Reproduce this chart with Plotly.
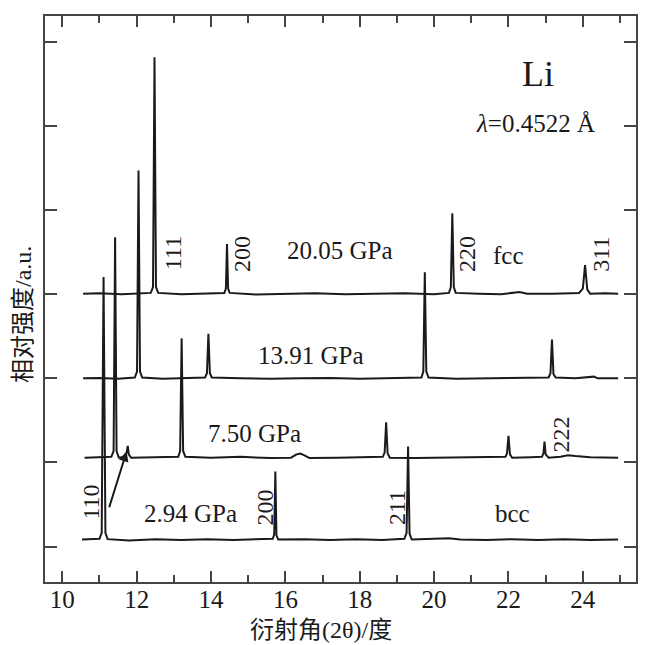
import plotly.graph_objects as go

# ---------------- data ----------------
pressures = ["20.05 GPa", "13.91 GPa", "7.50 GPa", "2.94 GPa"]
offsets = [3.005, 2.0, 1.057, 0.084]

x_2005 = [10.56, 11.0, 11.6, 12.2, 12.38, 12.44, 12.48, 12.52, 12.58, 13.2, 13.8, 14.36, 14.40, 14.43, 14.46,
          14.50, 15.2, 16.0, 16.8, 17.6, 18.4, 19.2, 20.0, 20.40, 20.45, 20.49, 20.53, 20.58, 21.2, 21.8,
          22.3, 22.5, 23.2, 23.9, 24.00, 24.06, 24.12, 24.2, 24.6, 24.95]
y_2005 = [0.0, 0.005, -0.005, 0.005, 0.01, 0.08, 2.81, 0.08, 0.01, -0.005, 0.005, 0.01, 0.06, 0.59, 0.06,
          0.01, -0.01, 0.0, 0.005, -0.005, 0.0, 0.005, -0.005, 0.01, 0.08, 0.955, 0.08, 0.01, 0.0, -0.005,
          0.02, 0.0, 0.0, 0.01, 0.06, 0.34, 0.05, 0.0, 0.005, 0.0]

x_1391 = [10.56, 11.0, 11.5, 11.95, 12.01, 12.05, 12.09, 12.15, 12.7, 13.3, 13.84, 13.89, 13.93, 13.97, 14.02,
          14.8, 15.6, 16.4, 17.2, 18.0, 18.8, 19.4, 19.66, 19.71, 19.75, 19.79, 19.85, 20.6, 21.4, 22.2,
          23.08, 23.13, 23.17, 23.21, 23.27, 23.8, 24.3, 24.4, 24.95]
y_1391 = [0.0, 0.005, -0.005, 0.01, 0.08, 2.47, 0.08, 0.01, -0.005, 0.005, 0.01, 0.06, 0.53, 0.06, 0.01,
          0.0, -0.005, 0.0, 0.005, -0.005, 0.0, 0.005, 0.01, 0.08, 1.26, 0.08, 0.01, -0.005, 0.0, 0.005,
          0.01, 0.06, 0.46, 0.05, 0.01, 0.0, 0.02, 0.0, 0.0]

x_750 = [10.6, 11.0, 11.32, 11.38, 11.42, 11.46, 11.52, 11.68, 11.73, 11.76, 11.79, 11.85, 12.5, 13.12, 13.17,
         13.21, 13.25, 13.31, 14.0, 14.8, 15.6, 16.15, 16.3, 16.4, 16.5, 16.65, 17.4, 18.2, 18.62, 18.67,
         18.71, 18.75, 18.81, 19.5, 20.3, 21.1, 21.92, 21.96, 22.0, 22.04, 22.1, 22.6, 22.9, 22.94, 22.97,
         23.0, 23.08, 23.4, 23.6, 23.8, 24.2, 24.95]
y_750 = [0.0, 0.005, 0.01, 0.08, 2.62, 0.08, 0.0, 0.01, 0.06, 0.14, 0.04, 0.0, 0.005, 0.01, 0.08,
         1.42, 0.08, 0.01, 0.0, 0.01, -0.005, 0.0, 0.04, 0.05, 0.03, -0.005, 0.0, 0.005, 0.01, 0.06,
         0.42, 0.05, 0.0, -0.005, 0.0, 0.005, 0.01, 0.05, 0.26, 0.04, 0.0, 0.005, 0.01, 0.05, 0.19,
         0.04, 0.0, 0.01, 0.03, 0.02, 0.005, 0.0]

x_294 = [10.53, 10.8, 11.0, 11.06, 11.11, 11.16, 11.22, 11.8, 12.5, 13.2, 13.9, 14.6, 15.3, 15.66, 15.70,
         15.73, 15.76, 15.81, 16.5, 17.2, 17.9, 18.6, 19.2, 19.26, 19.30, 19.34, 19.40, 20.0, 20.4, 20.7,
         21.4, 22.1, 22.8, 23.5, 24.2, 24.95]
y_294 = [0.0, 0.005, 0.01, 0.08, 3.12, 0.08, 0.005, -0.01, 0.005, -0.005, 0.005, -0.005, 0.005, 0.01, 0.06,
         0.81, 0.05, 0.0, 0.005, -0.005, 0.005, -0.005, 0.01, 0.08, 1.106, 0.07, 0.0, 0.005, 0.015, 0.0,
         -0.005, 0.005, -0.005, 0.005, -0.005, 0.0]

series_x = [x_2005, x_1391, x_750, x_294]
series_y = [y_2005, y_1391, y_750, y_294]

x_ticks = [10, 12, 14, 16, 18, 20, 22, 24]
y_ticks = [0, 1, 2, 3, 4, 5, 6]

# text labels: (text, x, y)
pressure_labels = [("20.05 GPa", 17.48, 3.52), ("13.91 GPa", 16.70, 2.27),
                   ("7.50 GPa", 15.18, 1.35), ("2.94 GPa", 13.45, 0.39)]
phase_labels = [("fcc", 22.0, 3.46), ("bcc", 22.11, 0.39)]
hkl_labels = [("111", 12.98, 3.49), ("200", 14.84, 3.48), ("220", 20.89, 3.48), ("311", 24.49, 3.47),
              ("222", 23.41, 1.33), ("110", 10.76, 0.53), ("200", 15.46, 0.47), ("211", 19.0, 0.47)]

x_title = "衍射角(2θ)/度"
y_title = "相对强度/a.u."

# ---------------- figure ----------------
SERIF = "Liberation Serif, Times New Roman, Noto Sans CJK SC, serif"
INK = "#1a1a1a"
fig = go.Figure()
for xs, ys, off, name in zip(series_x, series_y, offsets, pressures):
    fig.add_trace(go.Scatter(x=xs, y=[v + off for v in ys], mode="lines", name=name,
                             line=dict(color=INK, width=2), showlegend=False))

for t, x, y in pressure_labels + phase_labels:
    fig.add_annotation(x=x, y=y, xref="x", yref="y", text=t, showarrow=False,
                       font=dict(family=SERIF, size=25, color=INK))
for t, x, y in hkl_labels:
    fig.add_annotation(x=x, y=y, xref="x", yref="y", text=t, showarrow=False, textangle=-90,
                       font=dict(family=SERIF, size=24, color=INK))

fig.add_annotation(x=22.8, y=5.61, xref="x", yref="y", text="Li", showarrow=False,
                   font=dict(family=SERIF, size=36, color=INK))
fig.add_annotation(x=22.74, y=5.03, xref="x", yref="y", text="<i>λ</i>=0.4522 Å", showarrow=False,
                   font=dict(family=SERIF, size=25, color=INK))
# arrow from the 110 label to the small peak in the 7.50 GPa pattern
fig.add_annotation(x=11.73, y=1.13, ax=11.25, ay=0.45, xref="x", yref="y", axref="x", ayref="y",
                   text="", showarrow=True, arrowhead=2, arrowsize=1, arrowwidth=2, arrowcolor=INK)

# axis titles
fig.add_annotation(x=0.467, y=-0.0845, xref="paper", yref="paper", text=x_title, showarrow=False,
                   xanchor="center", yanchor="middle", font=dict(family=SERIF, size=24, color=INK))
fig.add_annotation(x=-0.037, y=0.472, xref="paper", yref="paper", text=y_title, showarrow=False,
                   xanchor="center", yanchor="middle", textangle=-90,
                   font=dict(family=SERIF, size=24, color=INK))

fig.update_xaxes(range=[9.535, 25.43], tickvals=x_ticks, ticks="inside", ticklen=11, tickwidth=1.6,
                 tickcolor="#444", showline=True, linecolor="#444", linewidth=2, mirror="allticks",
                 showgrid=False, zeroline=False, automargin=False, ticklabelstandoff=-6,
                 minor=dict(dtick=1, tick0=10, ticks="inside", ticklen=7, tickwidth=1.6, tickcolor="#444"),
                 tickfont=dict(family=SERIF, size=25, color=INK))
fig.update_yaxes(range=[-0.42, 6.305], tickvals=y_ticks, showticklabels=False, ticks="inside", ticklen=12,
                 tickwidth=1.6, tickcolor="#444", showline=True, linecolor="#444", linewidth=2,
                 mirror="allticks", showgrid=False, zeroline=False, automargin=False)

# the page body adds an 8 px margin, so the figure is 8 px smaller and margins are shifted
fig.update_layout(width=638, height=637, margin=dict(l=37, r=10, t=8, b=63),
                  paper_bgcolor="white", plot_bgcolor="white")
fig.write_html("out.html")
